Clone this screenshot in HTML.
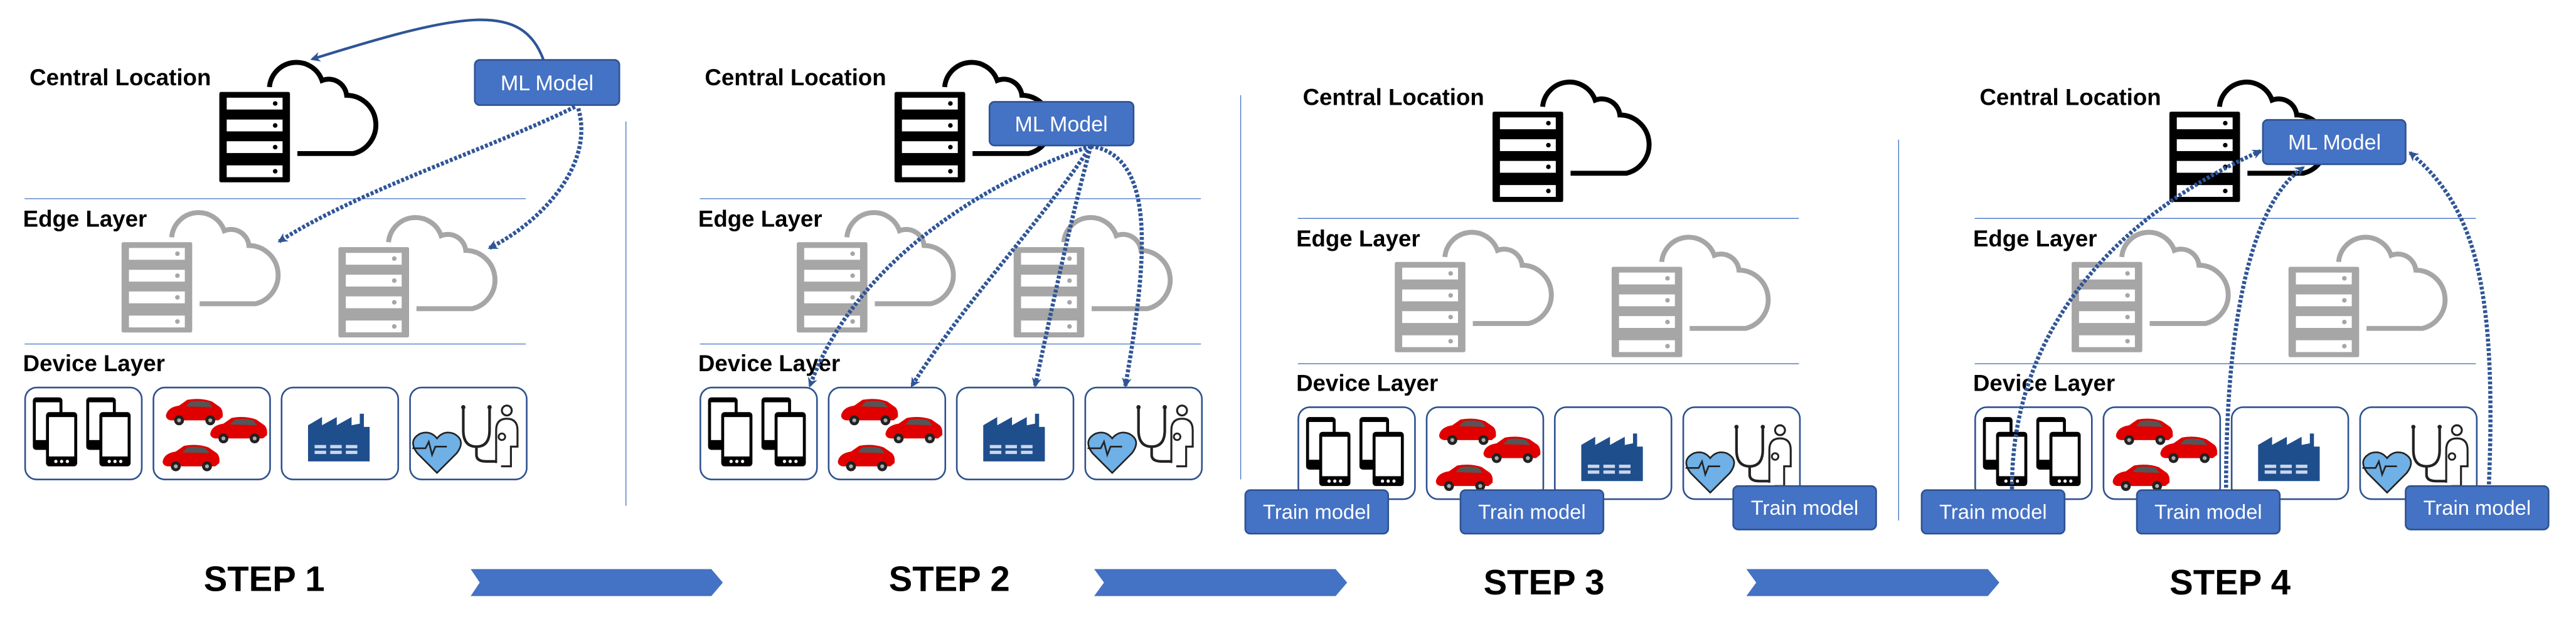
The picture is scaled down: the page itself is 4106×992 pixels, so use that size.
<!DOCTYPE html>
<html><head><meta charset="utf-8"><style>
html,body{margin:0;padding:0;background:#fff;}
svg{display:block;}
text{font-family:"Liberation Sans",Arial,sans-serif;}
.lbl{font-weight:bold;font-size:14px;fill:#000;}
.step{font-weight:bold;font-size:21.5px;fill:#000;}
.bx{fill:#4472c4;stroke:#2f528f;stroke-width:1;}
.bt{fill:#fff;font-size:13px;}
.tt{fill:#fff;font-size:12.5px;}
.dot{fill:none;stroke:#2f5597;stroke-width:2.5;stroke-dasharray:1.8 1.1;}
</style></head><body>
<svg width="4106" height="992" viewBox="0 0 1568 378.8" xmlns="http://www.w3.org/2000/svg">
<defs>
<marker id="ah" viewBox="0 0 10 10" refX="8" refY="5" markerWidth="6" markerHeight="6" orient="auto-start-reverse" markerUnits="userSpaceOnUse">
<path d="M0,0 L10,5 L0,10 L3,5z" fill="#2f5597"/></marker>
<marker id="ah2" viewBox="0 0 10 10" refX="8" refY="5" markerWidth="6" markerHeight="6" orient="auto" markerUnits="userSpaceOnUse">
<path d="M0,0 L10,5 L0,10 L3,5z" fill="#2f5597"/></marker>
<g id="srvB">
<path d="M164,53 A16.5,16.5 0 0 1 196,49 A11,11 0 0 1 211,58 A18,18 0 0 1 215,93.5 L181,93.5" fill="none" stroke="#000" stroke-width="3"/>
<rect x="133.5" y="56" width="43" height="55" fill="#000" rx="1"/>
<rect x="138" y="59.5" width="34" height="7.2" fill="#fff"/>
<rect x="138" y="72.8" width="34" height="7.2" fill="#fff"/>
<rect x="138" y="86" width="34" height="7.2" fill="#fff"/>
<rect x="138" y="100.7" width="34" height="7.2" fill="#fff"/>
<circle cx="167.5" cy="63" r="1.4" fill="#000"/><circle cx="167.5" cy="76.4" r="1.4" fill="#000"/>
<circle cx="167.5" cy="89.6" r="1.4" fill="#000"/><circle cx="167.5" cy="104.3" r="1.4" fill="#000"/>
</g>
<g id="srvG">
<path d="M164,53 A16.5,16.5 0 0 1 196,49 A11,11 0 0 1 211,58 A18,18 0 0 1 215,93.5 L181,93.5" fill="none" stroke="#a6a6a6" stroke-width="3"/>
<rect x="133.5" y="56" width="43" height="55" fill="#a6a6a6" rx="1"/>
<rect x="138" y="59.5" width="34" height="7.2" fill="#fff"/>
<rect x="138" y="72.8" width="34" height="7.2" fill="#fff"/>
<rect x="138" y="86" width="34" height="7.2" fill="#fff"/>
<rect x="138" y="100.7" width="34" height="7.2" fill="#fff"/>
<circle cx="167.5" cy="63" r="1.4" fill="#a6a6a6"/><circle cx="167.5" cy="76.4" r="1.4" fill="#a6a6a6"/>
<circle cx="167.5" cy="89.6" r="1.4" fill="#a6a6a6"/><circle cx="167.5" cy="104.3" r="1.4" fill="#a6a6a6"/>
</g>
<g id="phone">
<rect x="0" y="0" width="18" height="32" rx="2" fill="#000"/>
<rect x="1.8" y="3" width="14.4" height="23" fill="#fff"/>
<rect x="8" y="9" width="19" height="33" rx="2" fill="#000"/>
<rect x="9.8" y="12" width="15.4" height="24" fill="#fff"/>
<circle cx="14" cy="39" r="1" fill="#fff"/><circle cx="17.5" cy="39" r="1" fill="#fff"/><circle cx="21" cy="39" r="1" fill="#fff"/>
</g>
<g id="car">
<path d="M0,10 Q1,5 8,4 L13,0.5 Q21,-1 28,1.5 L33,5 Q35,7 34.5,11 L32,13 L3,13 Q0,12.5 0,10z" fill="#e00000"/>
<path d="M12,4.5 L15,1.5 Q21,0.5 26,2 L28.5,5z" fill="#555"/>
<circle cx="8" cy="13" r="3" fill="#222"/><circle cx="27" cy="13" r="3" fill="#222"/>
<circle cx="8" cy="13" r="1.2" fill="#aaa"/><circle cx="27" cy="13" r="1.2" fill="#aaa"/>
</g>
<g id="dev">
<rect x="15.3" y="236" width="71" height="56" rx="7" fill="#fff" stroke="#2f528f" stroke-width="1"/>
<rect x="93.4" y="236" width="71" height="56" rx="7" fill="#fff" stroke="#2f528f" stroke-width="1"/>
<rect x="171.4" y="236" width="71" height="56" rx="7" fill="#fff" stroke="#2f528f" stroke-width="1"/>
<rect x="249.6" y="236" width="71" height="56" rx="7" fill="#fff" stroke="#2f528f" stroke-width="1"/>
<use href="#phone" x="20" y="242"/>
<use href="#phone" x="52.5" y="242"/>
<use href="#car" x="101" y="243"/>
<use href="#car" x="128" y="254"/>
<use href="#car" x="99" y="271"/>
<path d="M187.5,281 L187.5,259 L196,254 L196,259 L205,254 L205,259 L214,254 L214,259 L219,258 L219,252 L221.5,252 L221.5,260 L225,260 L225,281z" fill="#1f4e8c"/>
<rect x="191.5" y="271" width="7" height="2" fill="#c9d6ea"/><rect x="201" y="271" width="7" height="2" fill="#c9d6ea"/><rect x="210.5" y="271" width="7" height="2" fill="#c9d6ea"/>
<rect x="191.5" y="274.5" width="7" height="2" fill="#c9d6ea"/><rect x="201" y="274.5" width="7" height="2" fill="#c9d6ea"/><rect x="210.5" y="274.5" width="7" height="2" fill="#c9d6ea"/>
<path d="M266,288 L254,276 Q248,268 256,264 Q262,262 266,267 Q270,262 276,264 Q284,268 278,276z" fill="#6fb0e6" stroke="#222" stroke-width="1"/>
<path d="M251,273 L259,273 L261,269 L263,277 L265,272 L272,272" fill="none" stroke="#222" stroke-width="1"/>
<path d="M282,248 L282,262 Q282,272 290,272 Q298,272 298,262 L298,248" fill="none" stroke="#222" stroke-width="1.6"/>
<path d="M290,272 L290,277 Q290,281 296,281 L302,281" fill="none" stroke="#222" stroke-width="1.6"/>
<circle cx="282" cy="248" r="1.3" fill="#222"/><circle cx="298" cy="248" r="1.3" fill="#222"/>
<circle cx="308.5" cy="250" r="3" fill="none" stroke="#222" stroke-width="1.2"/>
<path d="M302,282 L302,262 Q302,255 308.5,255 Q315,255 315,262 L315,272 L311,272 L311,284 L305,284" fill="none" stroke="#222" stroke-width="1.2"/>
<circle cx="305.5" cy="266" r="2" fill="none" stroke="#222" stroke-width="1.1"/>
</g>
<g id="base">
<use href="#srvB"/>
<use href="#srvG" transform="translate(-59.5,91.5)"/>
<use href="#srvG" transform="translate(72.5,94.5)"/>
<line x1="15" y1="121" x2="320" y2="121" stroke="#4472c4" stroke-width="0.5"/>
<line x1="15" y1="209.5" x2="320" y2="209.5" stroke="#4472c4" stroke-width="0.5"/>
<use href="#dev"/>
</g>
</defs>

<!-- Panel 1 -->
<use href="#base"/>
<text class="lbl" x="18" y="52">Central Location</text>
<text class="lbl" x="14" y="138">Edge Layer</text>
<text class="lbl" x="14" y="226">Device Layer</text>
<path d="M331,37 C318,0 280,8 190,36" fill="none" stroke="#2f5597" stroke-width="1.6" marker-end="url(#ah2)"/>
<rect class="bx" x="289" y="36.5" width="88" height="27.5" rx="3"/>
<text class="bt" x="333" y="55" text-anchor="middle">ML Model</text>
<path class="dot" d="M350,65 C300,90 220,115 170,147" marker-end="url(#ah)"/>
<path class="dot" d="M352,66 C362,100 330,135 298,151" marker-end="url(#ah)"/>
<line x1="381" y1="74" x2="381" y2="308" stroke="#4472c4" stroke-width="0.5"/>
<text class="step" x="124" y="360">STEP 1</text>
<polygon points="286.5,346.6 433,346.6 440,354.8 433,363 286.5,363 292,354.8" fill="#4472c4"/>

<!-- Panel 2 -->
<use href="#base" transform="translate(411,0)"/>
<text class="lbl" x="429" y="52">Central Location</text>
<text class="lbl" x="425" y="138">Edge Layer</text>
<text class="lbl" x="425" y="226">Device Layer</text>
<rect class="bx" x="602.3" y="62" width="87.7" height="26.6" rx="3"/>
<text class="bt" x="646" y="80" text-anchor="middle">ML Model</text>
<path class="dot" d="M664,89 C600,110 520,160 493,235" marker-end="url(#ah)"/>
<path class="dot" d="M664,89 C630,140 590,180 555,235" marker-end="url(#ah)"/>
<path class="dot" d="M664,89 C650,140 640,190 630,235" marker-end="url(#ah)"/>
<path class="dot" d="M664,89 C702,95 700,150 685,235" marker-end="url(#ah)"/>
<line x1="755.2" y1="58" x2="755.2" y2="292" stroke="#4472c4" stroke-width="0.5"/>
<text class="step" x="541" y="360">STEP 2</text>
<polygon points="666,346.6 813,346.6 820,354.8 813,363 666,363 672,354.8" fill="#4472c4"/>

<!-- Panel 3 -->
<use href="#base" transform="translate(775,12)"/>
<text class="lbl" x="793" y="64">Central Location</text>
<text class="lbl" x="789" y="150">Edge Layer</text>
<text class="lbl" x="789" y="238">Device Layer</text>
<rect class="bx" x="758" y="298.5" width="87" height="26.5" rx="3"/>
<text class="tt" x="801.5" y="316" text-anchor="middle">Train model</text>
<rect class="bx" x="889" y="298.5" width="87" height="26.5" rx="3"/>
<text class="tt" x="932.5" y="316" text-anchor="middle">Train model</text>
<rect class="bx" x="1055" y="296" width="87" height="26.5" rx="3"/>
<text class="tt" x="1098.5" y="313.5" text-anchor="middle">Train model</text>
<line x1="1155.7" y1="85" x2="1155.7" y2="317" stroke="#4472c4" stroke-width="0.5"/>
<text class="step" x="903" y="362">STEP 3</text>
<polygon points="1063,346.6 1210,346.6 1217,354.8 1210,363 1063,363 1069,354.8" fill="#4472c4"/>

<!-- Panel 4 -->
<use href="#base" transform="translate(1187,12)"/>
<text class="lbl" x="1205" y="64">Central Location</text>
<text class="lbl" x="1201" y="150">Edge Layer</text>
<text class="lbl" x="1201" y="238">Device Layer</text>
<rect class="bx" x="1377.4" y="73" width="86.9" height="27" rx="3"/>
<text class="bt" x="1421" y="91" text-anchor="middle">ML Model</text>
<rect class="bx" x="1169.7" y="298.5" width="87" height="26.5" rx="3"/>
<text class="tt" x="1213.2" y="316" text-anchor="middle">Train model</text>
<rect class="bx" x="1300.7" y="298.5" width="87" height="26.5" rx="3"/>
<text class="tt" x="1344.2" y="316" text-anchor="middle">Train model</text>
<rect class="bx" x="1464.3" y="296" width="87" height="26.5" rx="3"/>
<text class="tt" x="1507.8" y="313.5" text-anchor="middle">Train model</text>
<path class="dot" d="M1224.7,298 C1224,200 1290,130 1376,92" marker-end="url(#ah)"/>
<path class="dot" d="M1355,297 C1355,180 1375,120 1402,102" marker-end="url(#ah)"/>
<path class="dot" d="M1515,295 C1520,170 1505,125 1467,93" marker-end="url(#ah)"/>
<text class="step" x="1320.6" y="362">STEP 4</text>
</svg>
</body></html>
